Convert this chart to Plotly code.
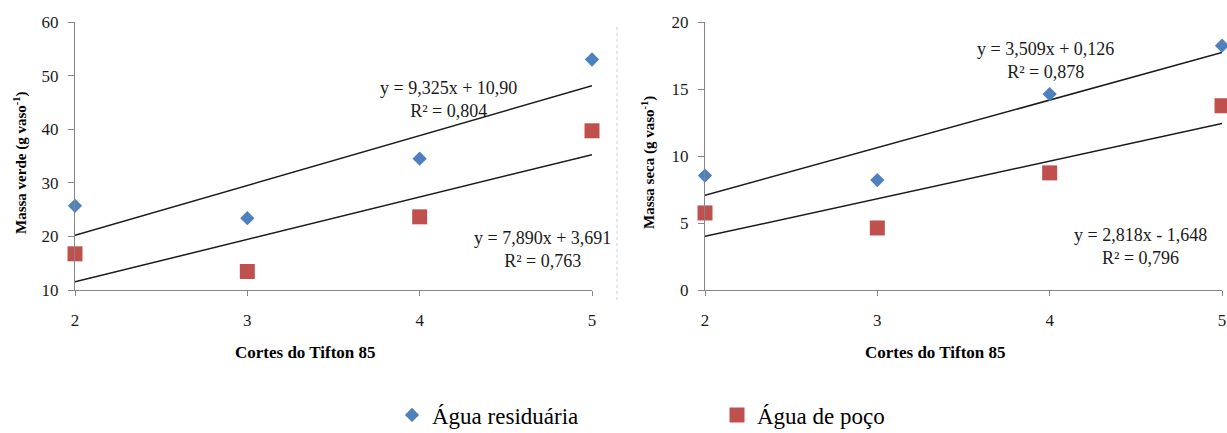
import numpy as np
import plotly.graph_objects as go

# ---- data ----
cortes = [2, 3, 4, 5]
verde_residuaria = [25.7, 23.4, 34.5, 53.0]
verde_poco = [16.75, 13.45, 23.65, 39.7]
seca_residuaria = [8.54, 8.2, 14.62, 18.23]
seca_poco = [5.75, 4.63, 8.74, 13.75]

eq_verde_res = "y = 9,325x + 10,90<br>R² = 0,804"
eq_verde_poco = "y = 7,890x + 3,691<br>R² = 0,763"
eq_seca_res = "y = 3,509x + 0,126<br>R² = 0,878"
eq_seca_poco = "y = 2,818x - 1,648<br>R² = 0,796"

x_title = "<b>Cortes do Tifton 85</b>"
y_title_verde = "<b>Massa verde (g vaso<sup>-1</sup>)</b>"
y_title_seca = "<b>Massa seca (g vaso<sup>-1</sup>)</b>"

W, H = 1227, 433
BLUE = "#4F81BD"
RED = "#C0504D"
AX = "#868686"
SERIF = "Liberation Serif"


def px(x):
    return x / W


def py(y):
    return 1 - y / H


fig = go.Figure()


def add_panel(xa, ya, res, poco, showlegend):
    for ys in (res, poco):
        m, b = np.polyfit(cortes, ys, 1)
        xs = [cortes[0], cortes[-1]]
        fig.add_trace(go.Scatter(
            x=xs, y=[m * v + b for v in xs], mode="lines",
            line=dict(color="#1a1a1a", width=1.5),
            xaxis=xa, yaxis=ya, showlegend=False, hoverinfo="skip"))
    fig.add_trace(go.Scatter(
        x=cortes, y=res, mode="markers", name="Água residuária",
        marker=dict(symbol="diamond", size=11, color=BLUE),
        xaxis=xa, yaxis=ya, showlegend=showlegend, cliponaxis=False,
        legendgroup="res"))
    fig.add_trace(go.Scatter(
        x=cortes, y=poco, mode="markers", name="Água de poço",
        marker=dict(symbol="square", size=15, color=RED),
        xaxis=xa, yaxis=ya, showlegend=showlegend, cliponaxis=False,
        legendgroup="poco"))


add_panel("x", "y", verde_residuaria, verde_poco, True)
add_panel("x2", "y2", seca_residuaria, seca_poco, False)

tickfont = dict(family=SERIF, size=17, color="#1a1a1a")

common_x = dict(
    range=[2, 5], tickvals=cortes, ticktext=[str(c) for c in cortes],
    showline=True, linecolor=AX, linewidth=1, ticks="outside",
    tickcolor=AX, ticklen=5, showgrid=False, zeroline=False,
    tickfont=tickfont, automargin=False, ticklabelstandoff=10)
common_y = dict(
    showline=True, linecolor=AX, linewidth=1, ticks="outside",
    tickcolor=AX, ticklen=6, showgrid=False, zeroline=False,
    tickfont=tickfont, automargin=False, ticklabelstandoff=6)

y_dom = [py(290), py(22)]

fig.update_layout(
    width=W, height=H,
    margin=dict(l=0, r=0, t=0, b=0, autoexpand=False),
    paper_bgcolor="white", plot_bgcolor="white",
    xaxis=dict(domain=[px(75), px(592)], anchor="y", **common_x),
    yaxis=dict(domain=y_dom, anchor="x", range=[10, 60], dtick=10,
               **common_y),
    xaxis2=dict(domain=[px(705), px(1222)], anchor="y2", **common_x),
    yaxis2=dict(domain=y_dom, anchor="x2", range=[0, 20], dtick=5,
                **common_y),
    legend=dict(orientation="h", x=px(392), y=py(415), xanchor="left",
                yanchor="middle", font=dict(family=SERIF, size=23,
                                            color="#000"),
                entrywidth=280, entrywidthmode="pixels",
                itemclick=False, bgcolor="rgba(0,0,0,0)"),
    showlegend=True,
)

# axis titles
for text, cx, cy in [(x_title, 305, 352), (x_title, 935, 352)]:
    fig.add_annotation(
        text=text, x=px(cx), y=py(cy), xref="paper", yref="paper",
        showarrow=False, xanchor="center", yanchor="middle",
        font=dict(family=SERIF, size=17, color="#000"))
for text, cx, cy in [(y_title_verde, 20, 163), (y_title_seca, 648, 163)]:
    fig.add_annotation(
        text=text, x=px(cx), y=py(cy), xref="paper", yref="paper",
        showarrow=False, xanchor="center", yanchor="middle", textangle=-90,
        font=dict(family=SERIF, size=15, color="#000"))

annots = [
    (eq_verde_res, 448, 100),
    (eq_verde_poco, 542, 250),
    (eq_seca_res, 1045, 60),
    (eq_seca_poco, 1140, 247),
]
for text, cx, cy in annots:
    fig.add_annotation(
        text=text, x=px(cx), y=py(cy), xref="paper", yref="paper",
        showarrow=False, align="center", xanchor="center", yanchor="middle",
        font=dict(family=SERIF, size=18, color="#1a1a1a"))

# faint dotted separator between the two panels
fig.add_shape(type="line", xref="paper", yref="paper",
              x0=px(617), x1=px(617), y0=py(300), y1=py(25),
              line=dict(color="#c8d0e0", width=1, dash="dot"))

# remove the default 8px page margin so the figure fills the window
fig.write_html(
    "out.html",
    config={"displayModeBar": False},
    post_script="document.body.style.margin='0';"
                "document.documentElement.style.overflow='hidden';")
